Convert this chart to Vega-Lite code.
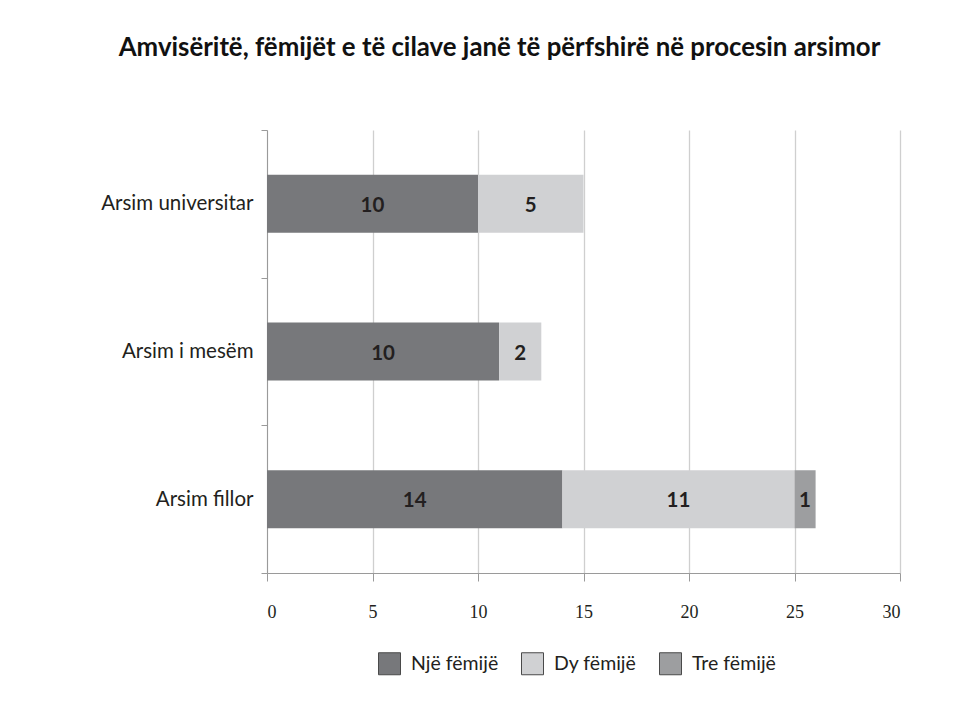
{
  "$schema": "https://vega.github.io/schema/vega-lite/v6.json",
  "width": 633,
  "height": 443,
  "autosize": "none",
  "padding": {"left": 267, "top": 130, "right": 64, "bottom": 140},
  "background": "white",
  "title": {
    "text": "Amvisëritë, fëmijët e të cilave janë të përfshirë në procesin arsimor",
    "font": "Lato",
    "fontSize": 25.8,
    "fontWeight": "bold",
    "color": "#111111",
    "anchor": "middle",
    "dx": -84,
    "offset": 58
  },
  "data": {
    "values": [
      {"kategoria": "Arsim universitar", "grupi": "Një fëmijë", "k": 1, "vlera": 10, "etiketa": "10"},
      {"kategoria": "Arsim universitar", "grupi": "Dy fëmijë", "k": 2, "vlera": 5, "etiketa": "5"},
      {"kategoria": "Arsim i mesëm", "grupi": "Një fëmijë", "k": 1, "vlera": 11, "etiketa": "10"},
      {"kategoria": "Arsim i mesëm", "grupi": "Dy fëmijë", "k": 2, "vlera": 2, "etiketa": "2"},
      {"kategoria": "Arsim fillor", "grupi": "Një fëmijë", "k": 1, "vlera": 14, "etiketa": "14"},
      {"kategoria": "Arsim fillor", "grupi": "Dy fëmijë", "k": 2, "vlera": 11, "etiketa": "11"},
      {"kategoria": "Arsim fillor", "grupi": "Tre fëmijë", "k": 3, "vlera": 1, "etiketa": "1"}
    ]
  },
  "transform": [
    {"stack": "vlera", "groupby": ["kategoria"], "sort": [{"field": "k", "order": "ascending"}], "as": ["v0", "v1"]},
    {"calculate": "(datum.v0 + datum.v1) / 2", "as": "mes"}
  ],
  "encoding": {
    "y": {
      "field": "kategoria",
      "type": "nominal",
      "sort": ["Arsim universitar", "Arsim i mesëm", "Arsim fillor"],
      "scale": {"paddingInner": 0, "paddingOuter": 0},
      "axis": {
        "title": null,
        "tickBand": "extent",
        "domainColor": "#9a9a9a",
        "tickColor": "#9a9a9a",
        "tickSize": 6,
        "labelPadding": 8,
        "labelFont": "Lato",
        "labelFontSize": 20.5,
        "labelColor": "#231f20",
        "grid": false
      }
    }
  },
  "layer": [
    {
      "mark": {"type": "bar", "height": {"band": 0.393}},
      "encoding": {
        "x": {
          "field": "v0",
          "type": "quantitative",
          "scale": {"domain": [0, 30]},
          "axis": {
            "title": null,
            "values": [0, 5, 10, 15, 20, 25, 30],
            "grid": true,
            "gridColor": "#cfcfcf",
            "gridWidth": 1.3,
            "domainColor": "#9a9a9a",
            "tickColor": "#9a9a9a",
            "tickSize": 8,
            "labelPadding": 22,
            "labelFont": "Liberation Serif",
            "labelFontSize": 18,
            "labelColor": "#231f20"
          }
        },
        "x2": {"field": "v1"},
        "color": {
          "field": "grupi",
          "type": "nominal",
          "scale": {
            "domain": ["Një fëmijë", "Dy fëmijë", "Tre fëmijë"],
            "range": ["#77787b", "#d0d1d3", "#9d9ea0"]
          },
          "legend": {
            "title": null,
            "orient": "none",
            "legendX": 111,
            "legendY": 522,
            "direction": "horizontal",
            "symbolType": "square",
            "symbolSize": 484,
            "symbolStrokeColor": "#4a4a4a",
            "symbolStrokeWidth": 1,
            "symbolOpacity": 1,
            "labelFont": "Lato",
            "labelFontSize": 19.5,
            "labelColor": "#231f20",
            "labelOffset": 10,
            "columnPadding": 20
          }
        }
      }
    },
    {
      "mark": {"type": "text", "font": "Lato", "fontSize": 20.5, "fontWeight": "bold", "color": "#231f20", "dy": 2},
      "encoding": {
        "x": {"field": "mes", "type": "quantitative"},
        "text": {"field": "etiketa", "type": "nominal"}
      }
    }
  ],
  "config": {
    "view": {"stroke": null}
  }
}
